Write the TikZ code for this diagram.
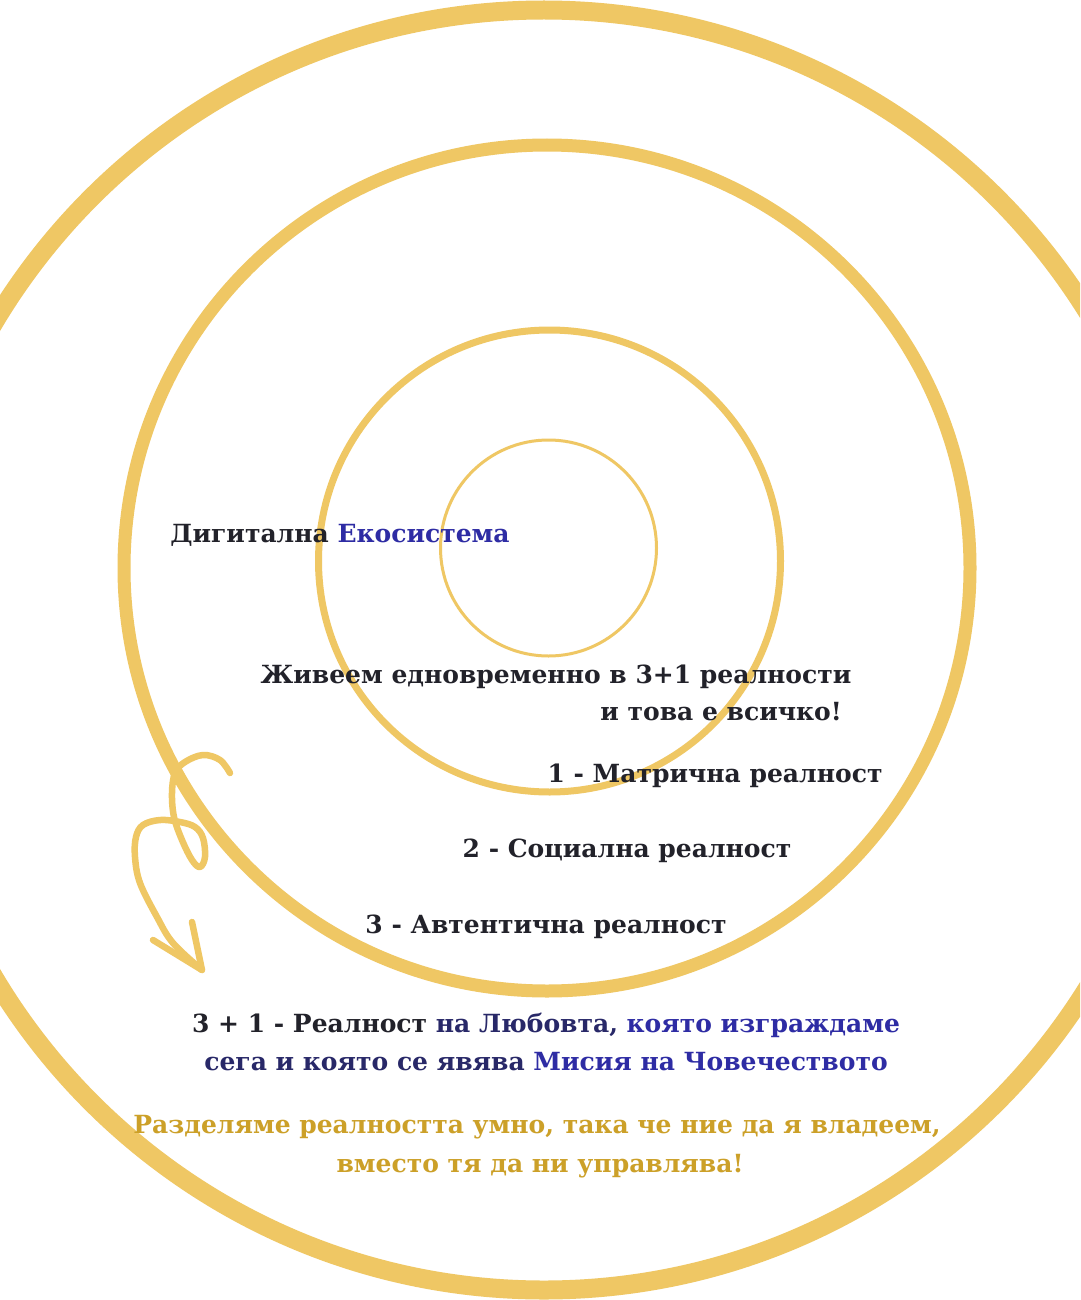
\documentclass[tikz,border=0pt]{standalone}
\usepackage{fontspec}
\setmainfont{DejaVu Serif}
\definecolor{ringgold}{RGB}{239,199,100}
\definecolor{textgold}{RGB}{204,160,40}
\definecolor{inkdark}{RGB}{34,34,42}
\definecolor{inknavy}{RGB}{40,40,104}
\definecolor{inkblue}{RGB}{46,44,164}
\begin{document}
\begin{tikzpicture}[x=1pt, y=-1pt,
    ring/.style={draw=ringgold},
    txt/.style={font=\fontsize{25}{30}\selectfont\bfseries, text=inkdark, inner sep=0pt, anchor=base},
    swirl/.style={draw=ringgold, line width=6.5pt, line cap=round, line join=round}]
    \useasboundingbox (0,0) rectangle (1080,1300);
    \fill[white] (0,0) rectangle (1080,1300);

    %画出四个圆环
    \begin{scope}
        \clip (0,0) rectangle (1080,1300);
        \draw[ring, line width=19pt] (544,650) circle[radius=640pt];
        \draw[ring, line width=13pt] (547,568) circle[radius=423pt];
        \draw[ring, line width=7pt] (549.5,561) circle[radius=231pt];
        \draw[ring, line width=3pt] (548.5,548) circle[radius=108pt];
    \end{scope}

    %画出左边的手绘箭头
    \coordinate (tip) at (202,970);
    \draw[swirl] plot[smooth, tension=0.6] coordinates {(230,773) (220,760) (203,755) (185,762) (175,773)
        (172,793) (174,817) (182,840) (192,860) (200,867) (205,857) (203,838) (195,827) (180,822)
        (160,820) (143,825) (136,837) (135,857) (140,883) (157,917) (173,943) (202,970)};
    \draw[swirl] (153,940) -- (tip) -- (192,922);

    %标注文字
    \node[txt] (eco) at (340,542) {Дигитална \textcolor{inkblue}{Екосистема}};
    \node[txt] (live) at (556,683) {Живеем едновременно в 3+1 реалности};
    \node[txt, anchor=base east] (all) at (842,720) {и това е всичко!};
    \node[txt] (real1) at (715,782) {1 - Матрична реалност};
    \node[txt] (real2) at (627,857) {2 - Социална реалност};
    \node[txt] (real3) at (546,933) {3 - Автентична реалност};
    \node[txt] (love) at (546,1032) {3 + 1 - Реалност \textcolor{inknavy}{на Любовта,} \textcolor{inkblue}{която изграждаме}};
    \node[txt] (mission) at (546,1070) {\textcolor{inknavy}{сега и която се явява} \textcolor{inkblue}{Мисия на Човечеството}};
    \node[txt, text=textgold] (split) at (537,1133) {Разделяме реалността умно, така че ние да я владеем,};
    \node[txt, text=textgold] (rule) at (540,1172) {вместо тя да ни управлява!};
\end{tikzpicture}
\end{document}
